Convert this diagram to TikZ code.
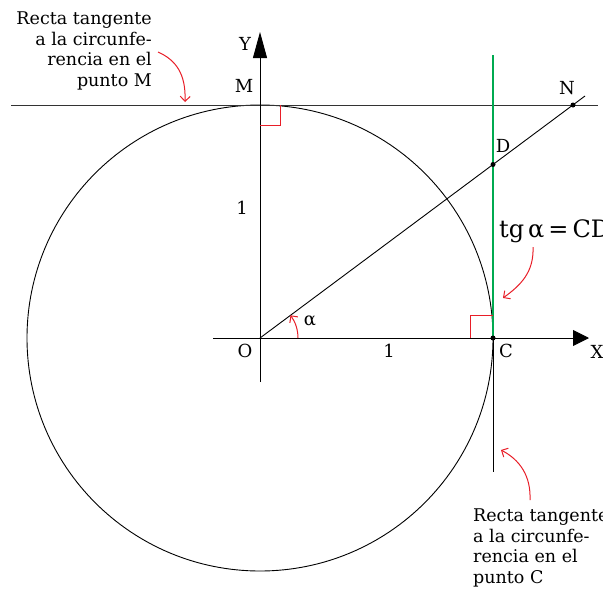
\documentclass[tikz,border=0pt]{standalone}
\usepackage{fontspec}
\setmainfont{DejaVu Serif}
\usetikzlibrary{arrows.meta,calc}
\definecolor{tgred}{RGB}{232,30,40}
\definecolor{tggreen}{RGB}{0,170,80}
\begin{document}
\begin{tikzpicture}[x=1pt,y=1pt,
  lbl/.style={font=\fontsize{18}{21}\selectfont,inner sep=0pt},
  blk/.style={font=\fontsize{17.5}{20.5}\selectfont,inner sep=0pt},
  thin/.style={line width=0.9pt,black},
  redln/.style={line width=1pt,tgred},
  redarr/.style={redln,-{Straight Barb[length=5pt,width=10pt]}},
  dot/.style={circle,fill=black,inner sep=0pt,minimum size=5pt}]
\useasboundingbox (0,0) rectangle (603,-592);
% key points
\coordinate (O) at (260,-338);
\coordinate (C) at (493,-338);
\coordinate (M) at (260,-105);
\coordinate (D) at (493,-164.5);
\coordinate (N) at (573,-105);
\coordinate (Nend) at (585,-96);
\coordinate (Ytop) at (260,-32);
\coordinate (Ybot) at (260,-382);
\coordinate (Xl) at (213,-338);
\coordinate (Xr) at (589,-338);
\coordinate (Hl) at (11,-105);
\coordinate (Hr) at (598,-105);
\coordinate (Gtop) at (493,-55);
\coordinate (Vbot) at (493,-472);
% circle
\draw[thin] (O) circle[radius=233];
% tangent at M
\draw[line width=0.9pt,black!80] (Hl) -- (Hr);
% axes
\draw[thin,-{Triangle[length=26pt,width=14pt]}] (Ybot) -- (Ytop);
\draw[thin,-{Triangle[length=16pt,width=16pt]}] (Xl) -- (Xr);
% tangent at C
\draw[thin] (C) -- (Vbot);
\draw[line width=2.8pt,tggreen] (Gtop) -- (C);
% ray
\draw[thin] (O) -- (Nend);
% right angles
\draw[redln] (260,-125) -- (280,-125) -- (280,-105);
\draw[redln] (470,-338) -- (470,-315) -- (493,-315);
% angle arc
\draw[redarr] (298,-338) arc[start angle=0,end angle=36.7,radius=38];
% dots
\node[dot] (dD) at (D) {};
\node[dot] (dN) at (N) {};
\node[dot] (dC) at (C) {};
% labels
\node[lbl] (lY) at (245,-44) {Y};
\node[lbl] (lM) at (244,-86) {M};
\node[lbl] (lN) at (567,-88) {N};
\node[lbl] (lD) at (503,-146) {D};
\node[lbl] (lO) at (245,-351) {O};
\node[lbl] (lC) at (506,-351) {C};
\node[lbl] (lX) at (597,-352) {X};
\node[lbl] (l1x) at (389,-351) {1};
\node[lbl] (l1y) at (242,-208) {1};
\node[lbl] (la) at (310,-321) {α};
\node[inner sep=0pt,font=\fontsize{24}{28}\selectfont,anchor=base west] (tg) at (499,-237) {tg\,α\,=\,CD};
% text blocks
\node[blk,align=right,anchor=north east] (tM) at (152,-12) {Recta tangente\\a la circunfe-\\rencia en el\\punto M};
\node[blk,align=left,anchor=north west] (tC) at (473,-509) {Recta tangente\\a la circunfe-\\rencia en el\\punto C};
% red arrows
\coordinate (a1s) at (158,-52);
\coordinate (a1e) at (185,-102);
\draw[redarr] (a1s) .. controls (176,-60) and (186,-74) .. (a1e);
\coordinate (a2s) at (533,-247);
\coordinate (a2e) at (503,-298);
\draw[redarr] (a2s) .. controls (534,-272) and (521,-285) .. (a2e);
\coordinate (a3s) at (530,-500);
\coordinate (a3e) at (501,-450);
\draw[redarr] (a3s) .. controls (531,-476) and (520,-460) .. (a3e);
\end{tikzpicture}
\end{document}
